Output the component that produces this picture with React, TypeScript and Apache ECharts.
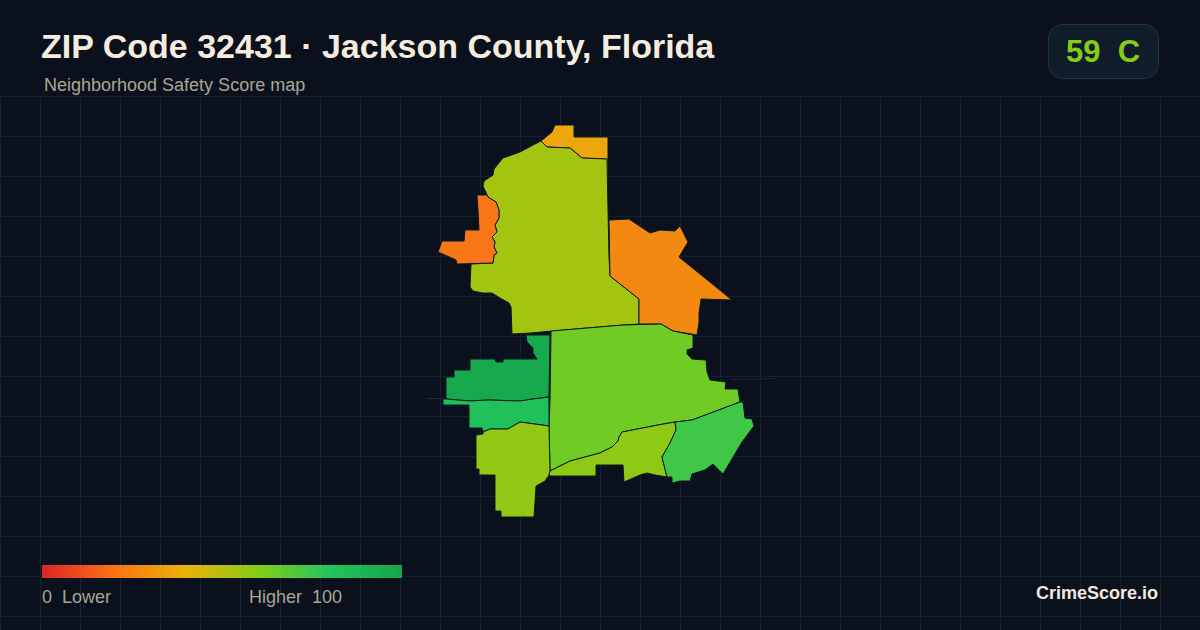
import React, { useEffect, useRef } from "react";
import * as echarts from "echarts";

const titleText = "ZIP Code 32431 · Jackson County, Florida";
const subtitleText = "Neighborhood Safety Score map";
const badgeText = "59  C";
const brandText = "CrimeScore.io";
const legendLow = "0  Lower";
const legendHigh = "Higher  100";
const rampColors = ["#dc2626", "#f97316", "#eab308", "#84cc16", "#22c55e", "#16a34a"];

const regionNames = ["north", "main", "westOrange", "eastOrange", "central", "darkGreen", "green", "southWest", "southMid", "southEast"];
const regionScores = [36, 54, 21, 27, 64, 97, 83, 57, 58, 74];

const north = [[555,125],[574,125],[574,137],[608,137],[608,171],[607,171],[607,159],[582,158],[570,148],[547,147],[541,141],[552,132]];
const main = [[541,141],[547,147],[570,148],[582,158],[607,159],[608,210],[609,257],[610,276],[639,299],[639,324],[623,325],[587,328],[553,331],[530,333],[512,334],[511,307],[509,303],[500,298],[492,293],[483,293],[473,291],[470,287],[471,264],[493,263],[494,255],[497,253],[494,247],[495,242],[492,237],[497,232],[495,225],[499,218],[499,210],[496,202],[488,197],[483,186],[484,181],[493,175],[494,169],[503,158],[520,152],[533,145]];
const westOrange = [[477,195],[487,195],[488,197],[496,202],[499,210],[499,218],[495,225],[497,232],[492,237],[495,242],[494,247],[497,253],[494,255],[493,263],[457,264],[456,260],[438,252],[442,241],[464,241],[465,230],[479,230],[478,210]];
const eastOrange = [[609,220],[629,219],[650,233],[660,230],[675,231],[680,226],[688,242],[679,257],[732,300],[701,299],[699,313],[699,322],[697,335],[673,331],[661,324],[639,324],[639,299],[610,276]];
const central = [[551,331],[587,328],[623,325],[661,324],[673,331],[693,335],[693,348],[687,350],[687,354],[692,359],[706,360],[707,372],[710,380],[726,382],[725,389],[738,389],[740,402],[692,420],[675,422],[658,425],[622,432],[619,437],[618,441],[612,447],[600,453],[570,461],[562,465],[550,471],[549,426],[550,400]];
const darkGreen = [[526,335],[550,335],[549,397],[533,399],[520,401],[488,400],[470,401],[446,399],[446,377],[454,377],[454,370],[470,370],[470,359],[495,359],[496,362],[503,362],[503,359],[537,359],[533,353],[533,348],[527,342]];
const green = [[443,399],[446,399],[470,401],[488,400],[520,401],[533,399],[549,397],[549,426],[520,422],[508,429],[490,429],[483,432],[482,428],[469,428],[469,405],[443,405]];
const southWest = [[483,432],[490,429],[508,429],[520,422],[549,426],[550,471],[549,475],[545,481],[536,486],[535,502],[534,517],[501,517],[501,511],[495,511],[495,475],[479,475],[479,469],[476,469],[476,435],[483,434]];
const southMid = [[550,471],[562,465],[570,461],[600,453],[612,447],[618,441],[619,437],[622,432],[658,425],[675,422],[676,430],[670,443],[662,457],[667,477],[655,475],[647,473],[640,475],[624,482],[623,465],[596,465],[596,476],[549,476]];
const southEast = [[675,422],[692,420],[740,402],[743,402],[745,418],[752,419],[754,426],[742,442],[723,474],[713,464],[705,470],[692,474],[690,481],[680,481],[672,483],[672,477],[667,477],[662,457],[670,443],[676,430]];
const regionRings = [north, main, westOrange, eastOrange, central, darkGreen, green, southWest, southMid, southEast];

const gridXs = [0,40,80,120,160,200,240,280,320,360,400,440,480,520,560,600,640,680,720,760,800,840,880,920,960,1000,1040,1080,1120,1160];
const gridYs = [96,136,176,216,256,296,336,376,416,456,496,536,576,616];

const toLngLat = (ring: number[][]) => ring.map(([x, y]) => [x, -y]);

export default function App() {
  const ref = useRef<HTMLDivElement>(null);
  useEffect(() => {
    document.body.style.margin = "0";
    document.body.style.background = "#0a111c";
    const chart = echarts.init(ref.current!, null, { renderer: "svg" });
    const features = regionNames.map((name, i) => ({
      type: "Feature",
      properties: { name },
      geometry: { type: "Polygon", coordinates: [toLngLat(regionRings[i])] },
    }));
    echarts.registerMap("zip32431", { type: "FeatureCollection", features } as any);
    const gridStroke = { stroke: "#13222c", lineWidth: 1 };
    const gridLines: any[] = [
      ...gridXs.map((x) => ({ type: "line", silent: true, shape: { x1: x + 0.5, y1: 96, x2: x + 0.5, y2: 630 }, style: gridStroke })),
      ...gridYs.map((y) => ({ type: "line", silent: true, shape: { x1: 0, y1: y + 0.5, x2: 1200, y2: y + 0.5 }, style: gridStroke })),
    ];
    const ramp = rampColors.map((color, i) => ({ offset: i / (rampColors.length - 1), color }));
    const sliverStroke = { stroke: "#1b2a37", lineWidth: 1 };
    chart.setOption({
      animation: false,
      backgroundColor: "#0a111c",
      title: [
        { text: titleText, left: 36, top: 24, textStyle: { color: "#f5ecdf", fontFamily: "Liberation Sans", fontWeight: "bold", fontSize: 34 } },
        { text: subtitleText, left: 39, top: 71, textStyle: { color: "#aca596", fontFamily: "Liberation Sans", fontWeight: "normal", fontSize: 18 } },
      ],
      visualMap: { show: false, type: "continuous", min: 0, max: 100, seriesIndex: 0, inRange: { color: rampColors } },
      series: [
        {
          type: "map",
          map: "zip32431",
          roam: false,
          aspectScale: 1,
          boundingCoords: [[0, 0], [1200, -630]],
          left: 0,
          top: 0,
          width: 1200,
          height: 630,
          z: 3,
          label: { show: false },
          emphasis: { disabled: true },
          select: { disabled: true },
          itemStyle: { borderColor: "#0a1a20", borderWidth: 1 },
          data: regionNames.map((name, i) => ({ name, value: regionScores[i] })),
        },
      ],
      graphic: [
        { type: "group", z: 0, zlevel: 0, children: gridLines },
        { type: "line", z: 1, silent: true, shape: { x1: 426, y1: 398.5, x2: 443, y2: 398.5 }, style: sliverStroke },
        { type: "line", z: 1, silent: true, shape: { x1: 731, y1: 379.5, x2: 775, y2: 378.5 }, style: sliverStroke },
        { type: "rect", z: 5, shape: { x: 1048.5, y: 24.5, width: 110, height: 54, r: 14 }, style: { fill: "#111c2a", stroke: "#243140", lineWidth: 1 } },
        { type: "text", z: 6, style: { x: 1103, y: 51, text: badgeText, fill: "#84cc16", font: "bold 31px 'Liberation Sans'", textAlign: "center", textVerticalAlign: "middle" } },
        { type: "rect", z: 5, shape: { x: 42, y: 565, width: 360, height: 13 }, style: { fill: new echarts.graphic.LinearGradient(0, 0, 1, 0, ramp) } },
        { type: "text", z: 6, style: { x: 42, y: 597, text: legendLow, fill: "#aca596", font: "18px 'Liberation Sans'", textVerticalAlign: "middle" } },
        { type: "text", z: 6, style: { x: 249, y: 597, text: legendHigh, fill: "#aca596", font: "18px 'Liberation Sans'", textVerticalAlign: "middle" } },
        { type: "text", z: 6, style: { x: 1158, y: 593, text: brandText, fill: "#f0e9dd", font: "bold 18px 'Liberation Sans'", textAlign: "right", textVerticalAlign: "middle" } },
      ],
    });
    return () => chart.dispose();
  }, []);
  return <div ref={ref} style={{ position: "fixed", left: 0, top: 0, width: 1200, height: 630 }} />;
}
